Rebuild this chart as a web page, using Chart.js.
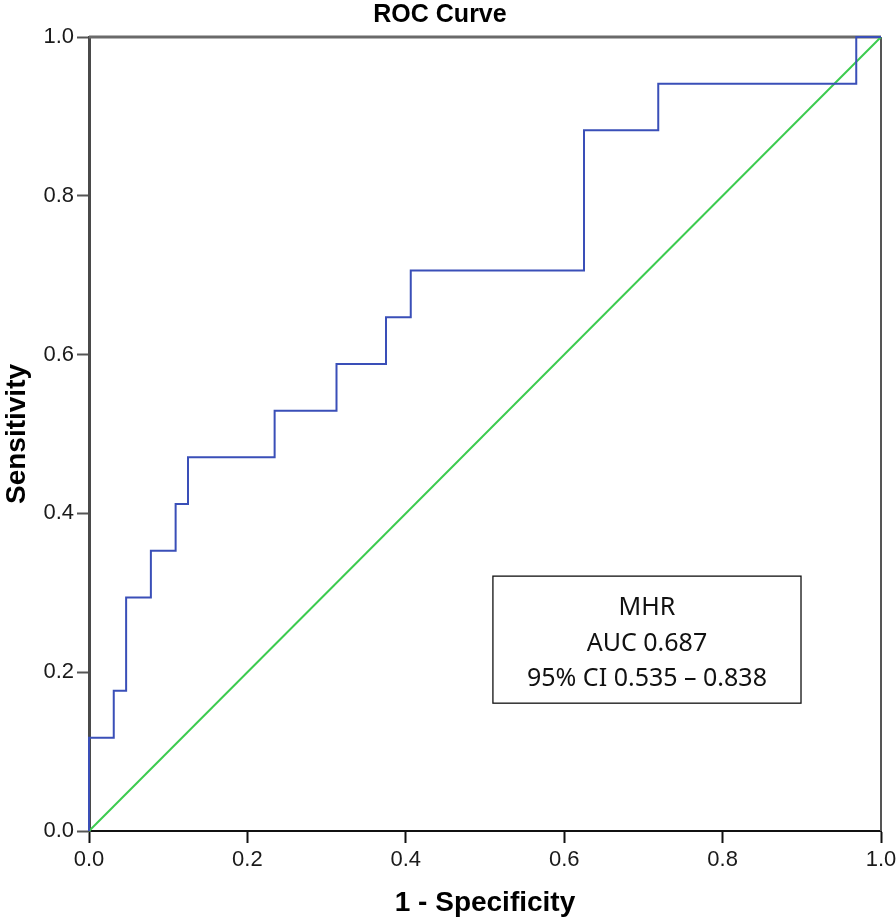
<!DOCTYPE html>
<html><head><meta charset="utf-8">
<script src="https://cdn.jsdelivr.net/npm/chart.js@4/dist/chart.umd.min.js"></script>
<style>html,body{margin:0;padding:0;background:#fff}#wrap{width:896px;height:921px}</style>
</head><body><div id="wrap"><canvas id="c" width="896" height="921"></canvas></div>
<script>
// ROC coordinates (1 - specificity, sensitivity), corner points of the curve
const fpr = [0, 0, 0.03125, 0.03125, 0.046875, 0.046875, 0.078125, 0.078125, 0.109375, 0.109375, 0.125, 0.125, 0.234375, 0.234375, 0.3125, 0.3125, 0.375, 0.375, 0.40625, 0.40625, 0.625, 0.625, 0.71875, 0.71875, 0.96875, 0.96875, 1];
const tpr = [0, 0.1176, 0.1176, 0.1765, 0.1765, 0.2941, 0.2941, 0.3529, 0.3529, 0.4118, 0.4118, 0.4706, 0.4706, 0.5294, 0.5294, 0.5882, 0.5882, 0.6471, 0.6471, 0.7059, 0.7059, 0.8824, 0.8824, 0.9412, 0.9412, 1, 1];
const refX = [0, 1];
const refY = [0, 1];
const tickValues = [0, 0.2, 0.4, 0.6, 0.8, 1.0];
const tickLabels = ['0.0', '0.2', '0.4', '0.6', '0.8', '1.0'];
const chartTitle = 'ROC Curve';
const xTitle = '1 - Specificity';
const yTitle = 'Sensitivity';
const annotationLines = ['MHR', 'AUC 0.687', '95% CI 0.535 \u2013 0.838'];

const curveData = fpr.map((x, i) => ({x: x, y: tpr[i]}));
const refData = refX.map((x, i) => ({x: x, y: refY[i]}));

const tickFont = {family: '"Liberation Sans Narrow", "Liberation Sans", Arial, sans-serif', size: 22};

const frame = {
  id: 'frame',
  beforeDatasetsDraw(chart) {
    const {ctx, chartArea: a} = chart;
    ctx.save();
    ctx.strokeStyle = '#6a6a6a';
    ctx.lineWidth = 3;
    ctx.beginPath();
    ctx.moveTo(a.left, a.top); ctx.lineTo(a.right, a.top);
    ctx.stroke();
    ctx.lineWidth = 2;
    ctx.strokeStyle = '#555';
    ctx.beginPath();
    ctx.moveTo(a.right, a.top); ctx.lineTo(a.right, a.bottom);
    ctx.stroke();
    ctx.restore();
  },
  afterDraw(chart) {
    const {ctx} = chart;
    ctx.save();
    ctx.fillStyle = '#000';
    ctx.font = 'bold 25px "Liberation Sans", Arial, sans-serif';
    ctx.textAlign = 'center';
    ctx.textBaseline = 'alphabetic';
    ctx.fillText(chartTitle, 440, 22);
    ctx.restore();
  }
};

const note = {
  id: 'note',
  afterDatasetsDraw(chart) {
    const {ctx} = chart;
    const xs = chart.scales.x, ys = chart.scales.y;
    const x0 = xs.getPixelForValue(0.51), x1 = xs.getPixelForValue(0.899);
    const y0 = ys.getPixelForValue(0.321), y1 = ys.getPixelForValue(0.161);
    ctx.save();
    ctx.fillStyle = '#fff';
    ctx.fillRect(x0, y0, x1 - x0, y1 - y0);
    ctx.strokeStyle = '#111';
    ctx.lineWidth = 1.3;
    ctx.strokeRect(x0, y0, x1 - x0, y1 - y0);
    ctx.fillStyle = '#111';
    ctx.font = '25px "Noto Sans", "Open Sans", sans-serif';
    ctx.textAlign = 'center';
    ctx.textBaseline = 'alphabetic';
    const cx = (x0 + x1) / 2;
    const base = [615, 650.5, 686];
    annotationLines.forEach((t, i) => ctx.fillText(t, cx, base[i]));
    ctx.restore();
  }
};

new Chart(document.getElementById('c'), {
  type: 'scatter',
  data: {
    datasets: [
      {data: refData, showLine: true, borderColor: '#3ccb4f', borderWidth: 2, pointRadius: 0, clip: false, order: 2},
      {data: curveData, showLine: true, borderColor: '#3a4fb8', borderWidth: 2, pointRadius: 0, clip: false, order: 1}
    ]
  },
  options: {
    responsive: false,
    devicePixelRatio: 1,
    animation: false,
    layout: {padding: {left: 0, right: 15, top: 37, bottom: 0}},
    plugins: {legend: {display: false}, tooltip: {enabled: false}, title: {display: false}},
    scales: {
      x: {
        type: 'linear', min: 0, max: 1,
        afterBuildTicks(s) { s.ticks = tickValues.map(v => ({value: v})); },
        afterFit(s) { s.height = 90; s.paddingRight = 10; s.paddingLeft = 0; },
        ticks: {callback: (v) => tickLabels[tickValues.indexOf(v)] ?? '', color: '#1a1a1a', padding: 4, maxRotation: 0,
                font: tickFont},
        grid: {drawOnChartArea: false, drawTicks: true, tickLength: 12, tickColor: '#111', tickWidth: 2},
        border: {display: true, color: '#111', width: 2},
        title: {display: true, text: xTitle, color: '#000', padding: {top: 0, bottom: 1},
                font: {family: '"Liberation Sans", Arial, sans-serif', size: 28, weight: 'bold'}}
      },
      y: {
        type: 'linear', min: 0, max: 1,
        afterBuildTicks(s) { s.ticks = tickValues.map(v => ({value: v})); },
        afterFit(s) { s.width = 89; s.paddingTop = 0; s.paddingBottom = 0; },
        ticks: {callback: (v) => tickLabels[tickValues.indexOf(v)] ?? '', color: '#1a1a1a', padding: 3,
                font: tickFont},
        grid: {drawOnChartArea: false, drawTicks: true, tickLength: 12, tickColor: '#555', tickWidth: 2},
        border: {display: true, color: '#4a4a4a', width: 3},
        title: {display: true, text: yTitle, color: '#000', padding: {top: 0, bottom: 0},
                font: {family: '"Liberation Sans", Arial, sans-serif', size: 28, weight: 'bold'}}
      }
    }
  },
  plugins: [frame, note]
});
</script>
</body></html>
